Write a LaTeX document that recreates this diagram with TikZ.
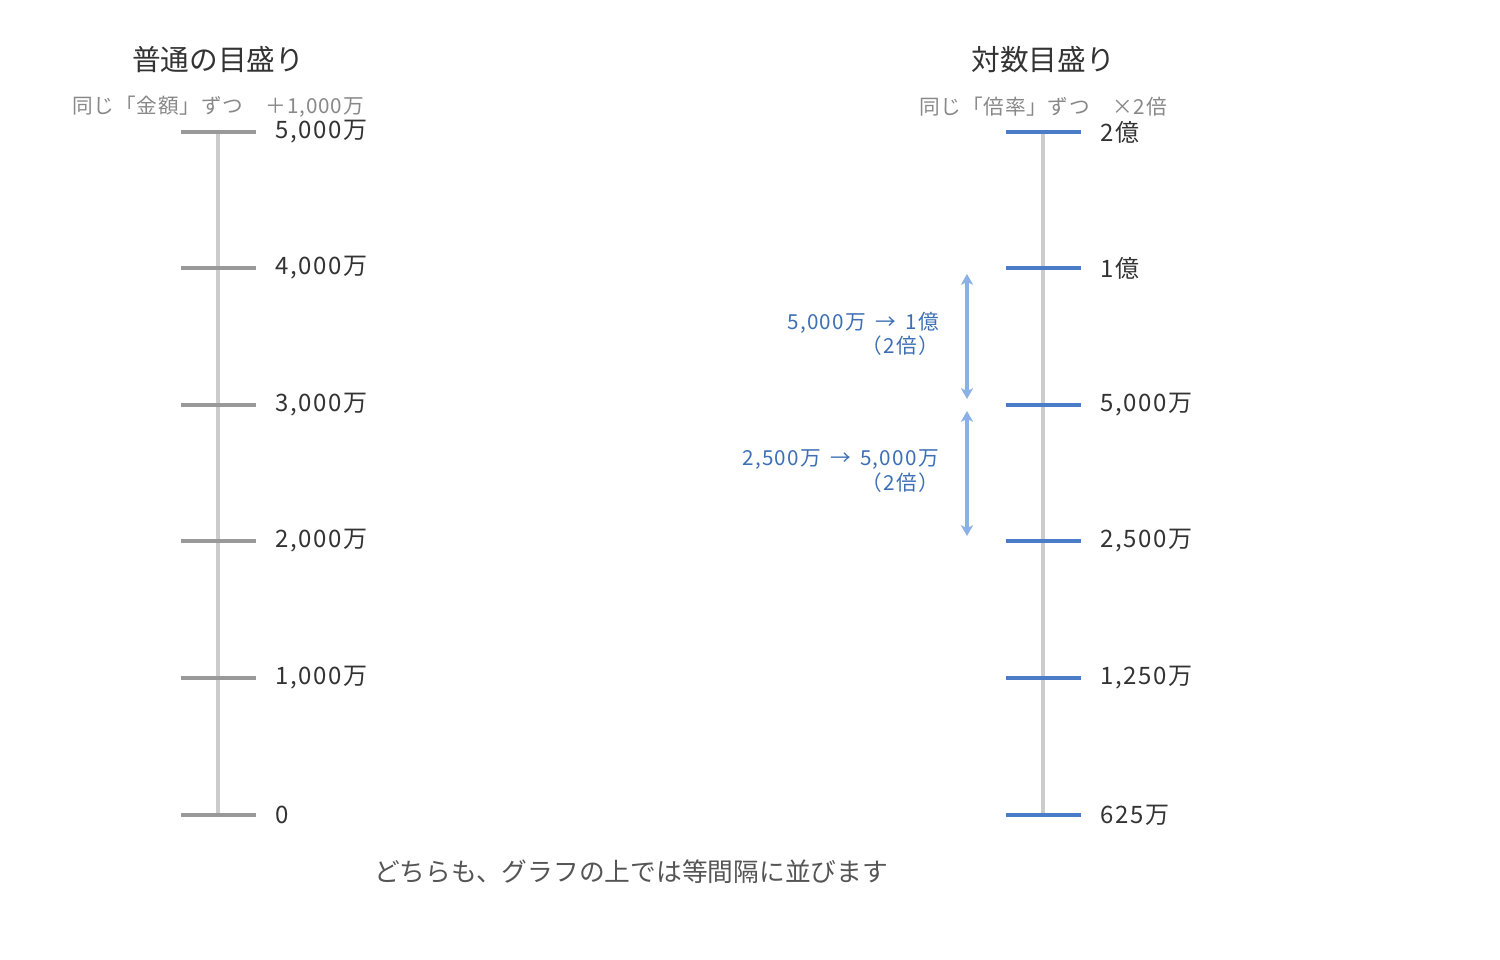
\documentclass[tikz,border=0pt]{standalone}
\usepackage{fontspec}
\setmainfont{Noto Sans CJK JP}
\usetikzlibrary{arrows.meta}
\definecolor{axisgray}{HTML}{CCCCCC}
\definecolor{tickgray}{HTML}{999999}
\definecolor{tickblue}{HTML}{4A7CC7}
\definecolor{arrblue}{HTML}{8AB0E8}
\definecolor{annblue}{HTML}{3D6FB5}
\definecolor{subgray}{HTML}{888888}
\definecolor{txt}{HTML}{333333}
\definecolor{captxt}{HTML}{555555}
\begin{document}
\begin{tikzpicture}[x=0.75pt,y=-0.75pt,
  axisline/.style={draw=axisgray,line width=2.4pt},
  tickg/.style={draw=tickgray,line width=3pt},
  tickb/.style={draw=tickblue,line width=3pt},
  vlabel/.style={anchor=west,text=txt,font=\fontsize{18}{20}\selectfont\addfontfeatures{LetterSpace=7},inner sep=0pt},
  title/.style={text=txt,font=\fontsize{21.5}{24}\selectfont,inner sep=0pt},
  subtitle/.style={text=subgray,font=\fontsize{15.5}{18}\selectfont\addfontfeatures{LetterSpace=4},inner sep=0pt},
  ann/.style={text=annblue,font=\fontsize{15.5}{17}\selectfont\addfontfeatures{LetterSpace=6},anchor=east,inner sep=0pt},
  dblarr/.style={draw=arrblue,line width=3pt,arrows={Stealth[length=8pt,width=9pt,inset=2pt]-Stealth[length=8pt,width=9pt,inset=2pt]}},
  caption/.style={text=captxt,font=\fontsize{19.3}{22}\selectfont,inner sep=0pt}]
\useasboundingbox (0,0) rectangle (1500,960);
% titles
\node[title] (t1) at (218,60) {普通の目盛り};
\node[title] (t2) at (1043,60) {対数目盛り};
\node[subtitle] (s1) at (218,107) {同じ「金額」ずつ　＋1,000万};
\node[subtitle] (s2) at (1043,107) {同じ「倍率」ずつ　×2倍};
% left axis
\coordinate (la) at (218,132);
\coordinate (lb) at (218,815);
\draw[axisline] (la) -- (lb);
\foreach \y/\t [count=\i] in {132/5{,}000万,268/4{,}000万,405/3{,}000万,541/2{,}000万,678/1{,}000万,815/0}{
  \coordinate (lt\i a) at (181,\y);
  \coordinate (lt\i b) at (256,\y);
  \draw[tickg] (lt\i a) -- (lt\i b);
  \node[vlabel] (ll\i) at (275,\y) {\t};
}
% right axis
\coordinate (ra) at (1043,132);
\coordinate (rb) at (1043,815);
\draw[axisline] (ra) -- (rb);
\foreach \y/\t [count=\i] in {132/2億,268/1億,405/5{,}000万,541/2{,}500万,678/1{,}250万,815/625万}{
  \coordinate (rt\i a) at (1006,\y);
  \coordinate (rt\i b) at (1081,\y);
  \draw[tickb] (rt\i a) -- (rt\i b);
  \node[vlabel] (rl\i) at (1100,\y) {\t};
}
% arrows
\coordinate (a1s) at (967,274);
\coordinate (a1e) at (967,399);
\coordinate (a2s) at (967,411);
\coordinate (a2e) at (967,536);
\draw[dblarr] (a1s) -- (a1e);
\draw[dblarr] (a2s) -- (a2e);
\node[ann] (n1) at (939,323) {5,000万 \,→\, 1億};
\node[ann] (n1b) at (939,346) {（2倍）};
\node[ann] (n2) at (939,460) {2,500万 \,→\, 5,000万};
\node[ann] (n2b) at (939,483) {（2倍）};
% caption
\node[caption] (cap) at (631,872) {どちらも、グラフの上では等間隔に並びます};
\end{tikzpicture}
\end{document}
